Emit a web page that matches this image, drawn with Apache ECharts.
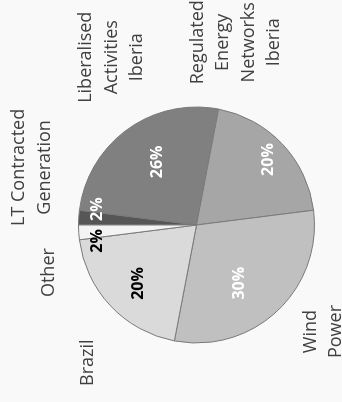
<!DOCTYPE html>
<html>
<head>
<meta charset="utf-8">
<script src="https://cdn.jsdelivr.net/npm/echarts@6.0.0/dist/echarts.min.js"></script>
<style>
  html, body { margin: 0; padding: 0; background: #f9f9f9; overflow: hidden; }
  /* the chart is drawn upright (402x342) and turned a quarter turn to the left */
  #pieChart {
    position: absolute; left: 0; top: 0;
    width: 402px; height: 342px;
    transform-origin: 0 0;
    transform: translate(0, 402px) rotate(-90deg);
  }
</style>
</head>
<body>
<div id="pieChart"></div>
<script>
// data, clockwise from the top
const categories = ['LT Contracted\nGeneration', 'Liberalised\nActivities\nIberia', 'Regulated\nEnergy\nNetworks\nIberia', 'Wind\nPower', 'Brazil', 'Other'];
const shares = [2, 26, 20, 30, 20, 2];

// styling
const sliceColors = ['#565656', '#808080', '#a6a6a6', '#c0c0c0', '#dadada', '#f4f4f4'];
const pctColors = ['#ffffff', '#ffffff', '#ffffff', '#ffffff', '#000000', '#000000'];
// nudges of the percent labels and the name labels
const pctShift = [[12, -37], [13, -3], [23, 27], [-13, 0], [-16, -13], [-12, -37]];
const nameShift = [[48, -12], [44, 5], [78, -72], [5, 22], [-33, 3], [-38, 5]];

const pieCenter = [177, 196.5];

let chart = echarts.init(document.getElementById('pieChart'));

let sliceData = [];
let nameData = [];
for (let i = 0; i < categories.length; i++) {
  sliceData.push({
    name: categories[i],
    value: shares[i],
    itemStyle: { color: sliceColors[i] },
    label: { color: pctColors[i] }
  });
  nameData.push({ name: categories[i], value: shares[i] });
}

let option = {
  backgroundColor: '#f9f9f9',
  animation: false,
  series: [
    {
      type: 'pie',
      center: pieCenter,
      radius: 118,
      startAngle: 90,
      clockwise: true,
      silent: true,
      itemStyle: { borderColor: '#7a7a7a', borderWidth: 1 },
      label: {
        show: true,
        position: 'inside',
        formatter: '{d}%',
        fontFamily: 'Open Sans',
        fontWeight: 'bold',
        fontSize: 16
      },
      labelLine: { show: false },
      labelLayout: function (params) {
        let s = pctShift[params.dataIndex];
        return { dx: s[0], dy: s[1] };
      },
      data: sliceData
    },
    {
      // invisible ring that only carries the category names
      type: 'pie',
      center: pieCenter,
      radius: [149, 151],
      startAngle: 90,
      clockwise: true,
      silent: true,
      itemStyle: { color: 'transparent', borderWidth: 0 },
      label: {
        show: true,
        position: 'inside',
        formatter: '{b}',
        fontFamily: 'Open Sans',
        fontSize: 18,
        lineHeight: 25.5,
        align: 'center',
        color: '#404040'
      },
      labelLine: { show: false },
      labelLayout: function (params) {
        let s = nameShift[params.dataIndex];
        return { dx: s[0], dy: s[1] };
      },
      data: nameData
    }
  ]
};

chart.setOption(option);
</script>
</body>
</html>
